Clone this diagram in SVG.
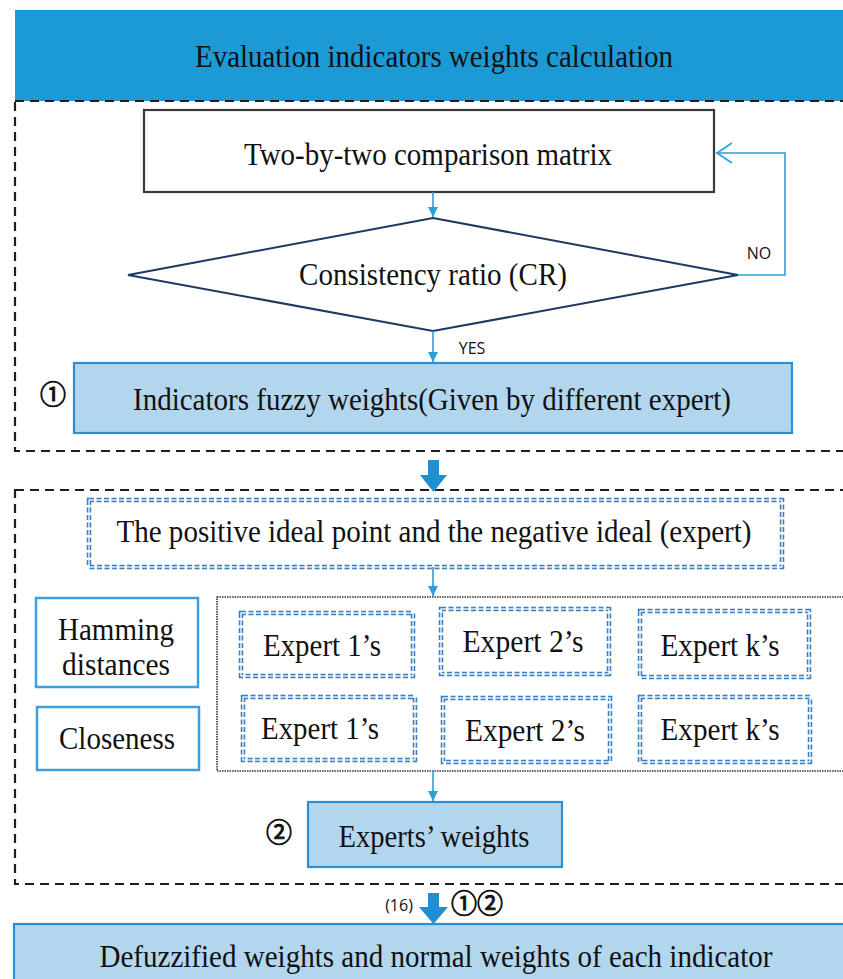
<svg xmlns="http://www.w3.org/2000/svg" width="843" height="979" viewBox="0 0 843 979">
<style>
.t{font-family:"Liberation Serif","Times New Roman",serif;font-size:32px;fill:#111;text-anchor:middle}
.s{font-family:"Open Sans","Liberation Sans",sans-serif;font-size:16px;fill:#111;text-anchor:middle}
.c{font-family:"Noto Sans CJK SC","DejaVu Sans",sans-serif;font-size:26px;fill:#111;stroke:#111;stroke-width:0.9;text-anchor:middle}
.sec{fill:none;stroke:#1e1e1e;stroke-width:2.2;stroke-dasharray:9 6}
.lb{fill:#b1d6ee;stroke:#2e8ed2;stroke-width:2.2}
.wb{fill:#fff;stroke:#3da0e0;stroke-width:2.5}
.dd{fill:none;stroke:#3a7fc0;stroke-width:4.5;stroke-dasharray:5 2.5}
.ddw{fill:none;stroke:#fff;stroke-width:1.3}
.conn{fill:none;stroke:#2a9fd8;stroke-width:1.6}
.big{fill:#1f8fd2}
</style>
<defs>
<marker id="ah" markerWidth="12" markerHeight="12" refX="10" refY="5" orient="auto" markerUnits="userSpaceOnUse">
<path d="M0,0 L10,5 L0,10 Z" fill="#2a9fd8"/>
</marker>
<marker id="oh" markerWidth="20" markerHeight="24" refX="17" refY="11" orient="auto" markerUnits="userSpaceOnUse">
<path d="M1,1 L16,11 L1,21" fill="none" stroke="#2a9fd8" stroke-width="1.6"/>
</marker>
</defs>

<g id="header">
<rect x="15" y="10" width="828" height="91" fill="#1b9ad6"/>
<text class="t" x="434" y="67" textLength="478" lengthAdjust="spacingAndGlyphs">Evaluation indicators weights calculation</text>
</g>

<g id="section1">
<rect class="sec" x="15" y="101" width="840" height="350"/>
</g>
<g id="section2">
<rect class="sec" x="15" y="490" width="840" height="394"/>
</g>

<g id="matrix">
<rect x="144" y="110" width="570" height="82" fill="#fff" stroke="#3a3a3a" stroke-width="2.2"/>
<text class="t" x="428" y="165" textLength="368" lengthAdjust="spacingAndGlyphs">Two-by-two comparison matrix</text>
</g>

<g id="cr">
<polygon points="433,218 738,275 433,331 128,275" fill="#fff" stroke="#1f3864" stroke-width="2"/>
<text class="t" x="433" y="285" textLength="268" lengthAdjust="spacingAndGlyphs">Consistency ratio (CR)</text>
</g>

<g id="fuzzy">
<rect class="lb" x="74" y="363" width="718" height="70"/>
<text class="t" x="432" y="410" textLength="598" lengthAdjust="spacingAndGlyphs">Indicators fuzzy weights(Given by different expert)</text>
<text class="c" x="53" y="404">①</text>
</g>

<g id="ideal">
<rect class="dd" x="89" y="500" width="693" height="67"/>
<rect class="ddw" x="89" y="500" width="693" height="67"/>
<text class="t" x="434" y="542" textLength="635" lengthAdjust="spacingAndGlyphs">The positive ideal point and the negative ideal (expert)</text>
</g>

<g id="hamming">
<rect class="wb" x="36" y="598" width="162" height="89"/>
<text class="t" x="116" y="640" textLength="116" lengthAdjust="spacingAndGlyphs">Hamming</text>
<text class="t" x="116" y="675" textLength="108" lengthAdjust="spacingAndGlyphs">distances</text>
</g>

<g id="closeness">
<rect class="wb" x="37" y="707" width="162" height="63"/>
<text class="t" x="117" y="749" textLength="116" lengthAdjust="spacingAndGlyphs">Closeness</text>
</g>

<g id="experts">
<rect x="217" y="597" width="630" height="174" fill="none" stroke="#333" stroke-width="1.6" stroke-dasharray="1.5 1"/>
</g>

<g id="h1">
<rect class="dd" x="241" y="613" width="172" height="63"/><rect class="ddw" x="241" y="613" width="172" height="63"/>
<text class="t" x="322" y="656" textLength="118" lengthAdjust="spacingAndGlyphs">Expert 1’s</text>
</g>
<g id="h2">
<rect class="dd" x="441" y="609" width="168" height="65"/><rect class="ddw" x="441" y="609" width="168" height="65"/>
<text class="t" x="523" y="652" textLength="121" lengthAdjust="spacingAndGlyphs">Expert 2’s</text>
</g>
<g id="hk">
<rect class="dd" x="640" y="611" width="169" height="66"/><rect class="ddw" x="640" y="611" width="169" height="66"/>
<text class="t" x="720" y="656" textLength="119" lengthAdjust="spacingAndGlyphs">Expert k’s</text>
</g>
<g id="c1">
<rect class="dd" x="243" y="697" width="172" height="63"/><rect class="ddw" x="243" y="697" width="172" height="63"/>
<text class="t" x="320" y="739" textLength="118" lengthAdjust="spacingAndGlyphs">Expert 1’s</text>
</g>
<g id="c2">
<rect class="dd" x="443" y="698" width="167" height="64"/><rect class="ddw" x="443" y="698" width="167" height="64"/>
<text class="t" x="525" y="741" textLength="120" lengthAdjust="spacingAndGlyphs">Expert 2’s</text>
</g>
<g id="ck">
<rect class="dd" x="640" y="697" width="170" height="65"/><rect class="ddw" x="640" y="697" width="170" height="65"/>
<text class="t" x="720" y="740" textLength="119" lengthAdjust="spacingAndGlyphs">Expert k’s</text>
</g>

<g id="expw">
<rect class="lb" x="308" y="802" width="254" height="65"/>
<text class="t" x="434" y="847" textLength="191" lengthAdjust="spacingAndGlyphs">Experts’ weights</text>
<text class="c" x="279" y="842">②</text>
</g>

<g id="final">
<rect x="14" y="924" width="840" height="60" fill="#b1d6ee" stroke="#2e8ed2" stroke-width="2.2"/>
<text class="t" x="436" y="967" textLength="673" lengthAdjust="spacingAndGlyphs">Defuzzified weights and normal weights of each indicator</text>
</g>

<g id="connectors">
<line class="conn" x1="433" y1="192" x2="433" y2="217" marker-end="url(#ah)"/>
<polyline class="conn" points="738,275 785,275 785,153 716,153" marker-end="url(#oh)"/>
<text class="s" x="759" y="259">NO</text>
<line class="conn" x1="433" y1="331" x2="433" y2="362" marker-end="url(#ah)"/>
<text class="s" x="472" y="354">YES</text>
<path class="big" d="M428,460 H439 V475 H447 L433.5,492 L420,475 H428 Z"/>
<line class="conn" x1="433" y1="567" x2="433" y2="596" marker-end="url(#ah)"/>
<line class="conn" x1="433" y1="771" x2="433" y2="801" marker-end="url(#ah)"/>
<path class="big" d="M428,893 H439 V907 H448 L433.5,924 L419,907 H428 Z"/>
<text class="s" x="399" y="911">(16)</text>
<text class="c" x="477" y="913">①②</text>
</g>
</svg>
